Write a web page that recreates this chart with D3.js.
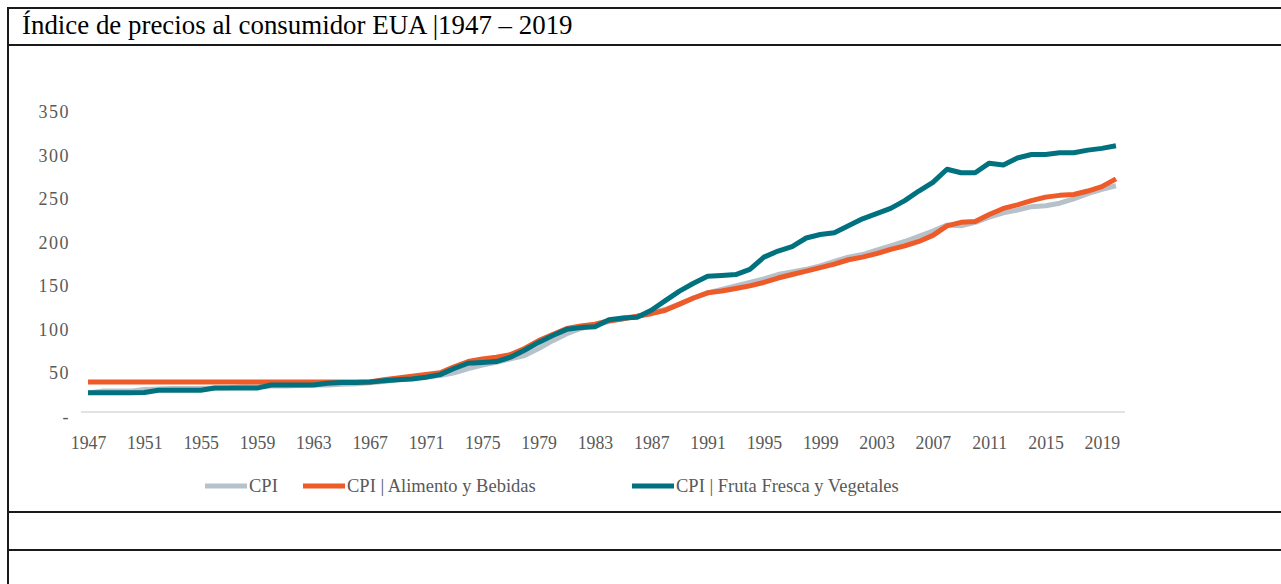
<!DOCTYPE html>
<html>
<head>
<meta charset="utf-8">
<script src="https://cdn.jsdelivr.net/npm/d3@7"></script>
<style>
  body { margin: 0; background: #fff; }
  svg { display: block; }
  text { font-family: "Liberation Serif", "Times New Roman", serif; }
</style>
</head>
<body>
<svg width="1281" height="584"></svg>
<script>
// years 1947 - 2020
var years = d3.range(1947, 2021);

var cpi = [22, 24, 24, 24, 26, 26.5, 27, 27, 27, 27.5, 28, 29, 29, 30, 30, 30.5, 31, 31, 32, 32.5,
  33.5, 35, 37, 39, 40.5, 42, 45, 50, 54, 57, 61, 65, 73, 82, 90, 96, 100, 104, 108, 110,
  114, 118, 124, 131, 137, 141, 145, 149, 153, 158, 161, 164, 168, 173, 178, 181, 186, 191, 196, 202,
  208, 215, 214, 218, 224, 229, 232, 236, 237, 240, 245, 251, 256, 260];

var food = [34.5, 34.5, 34.5, 34.5, 34.5, 34.5, 34.5, 34.5, 34.5, 34.5, 34.5, 34.5, 34.5, 34.5, 34.5, 34.5, 34.5, 34.5, 34.5, 34.5,
  34.5, 37, 39, 41, 43, 45, 52, 58, 61, 63, 66, 73, 82, 89, 96, 99, 101, 105, 107, 110,
  113, 117, 124, 131, 137, 139, 142, 145, 149, 154, 158, 162, 166, 170, 175, 178, 182, 187, 191, 196,
  203, 214, 218, 219, 227, 234, 238, 243, 247, 249, 250, 254, 259, 268];

var fruit = [22, 22, 22, 22, 22.5, 25, 25, 25, 25, 27.5, 27.5, 27.5, 27.5, 31, 31, 31, 31, 33, 34, 34,
  34.5, 36, 37, 38, 40, 43, 50, 56, 57, 58, 63, 71, 80, 88, 95, 97, 98, 106, 108, 109,
  117, 128, 139, 148, 156, 157, 158, 164, 178, 185, 190, 200, 204, 206, 214, 222, 228, 234, 243, 254,
  264, 279, 275, 275, 286, 284, 292, 296, 296, 298, 298, 301, 303, 306];

var tickYears = d3.range(1947, 2020, 4);
var yTicks = [0, 50, 100, 150, 200, 250, 300, 350];

var seriesNames = ["CPI", "CPI | Alimento y Bebidas", "CPI | Fruta Fresca y Vegetales"];
var seriesColors = ["#b6c1ca", "#ee5a28", "#00717f"];
var seriesData = [cpi, food, fruit];

var svg = d3.select("svg");

// table frame
var frame = svg.append("g").attr("stroke", "#1a1a1a").attr("stroke-width", 2);
frame.append("line").attr("x1", 8).attr("x2", 8).attr("y1", 7).attr("y2", 584);
[8, 45, 512, 550].forEach(function(y) {
  frame.append("line").attr("x1", 8).attr("x2", 1281).attr("y1", y).attr("y2", y);
});

svg.append("text")
    .attr("x", 22)
    .attr("y", 34)
    .attr("font-size", 26.9)
    .attr("fill", "#000")
    .text("Índice de precios al consumidor EUA |1947 – 2019");

var x = d3.scaleLinear().domain([1946.5, 2020.5]).range([81, 1123]);
var y = d3.scaleLinear().domain([0, 350]).range([412, 107.5]);

// baseline
svg.append("line")
    .attr("x1", 81).attr("x2", 1125)
    .attr("y1", y(0)).attr("y2", y(0))
    .attr("stroke", "#d9d9d9").attr("stroke-width", 1.5);

var yAxis = svg.append("g")
    .attr("transform", "translate(70,0)")
    .call(d3.axisLeft(y).tickValues(yTicks).tickSize(0).tickPadding(0)
      .tickFormat(function(d) { return d === 0 ? "-" : d; }));
yAxis.select(".domain").remove();
yAxis.selectAll("text")
    .attr("font-family", "Liberation Serif, Times New Roman, serif")
    .attr("font-size", 18)
    .attr("letter-spacing", 1.5)
    .attr("fill", "#595959")
    .attr("dy", 10);

var xAxis = svg.append("g")
    .attr("transform", "translate(0,436)")
    .call(d3.axisBottom(x).tickValues(tickYears).tickSize(0).tickPadding(0)
      .tickFormat(d3.format("d")));
xAxis.select(".domain").remove();
xAxis.selectAll("text")
    .attr("font-family", "Liberation Serif, Times New Roman, serif")
    .attr("font-size", 17.8)
    .attr("fill", "#595959")
    .attr("dy", "0.71em");

var line = d3.line()
    .x(function(d, i) { return x(years[i]); })
    .y(function(d) { return y(d); });

seriesData.forEach(function(s, k) {
  svg.append("path")
      .datum(s)
      .attr("fill", "none")
      .attr("stroke", seriesColors[k])
      .attr("stroke-width", 5)
      .attr("stroke-linejoin", "round")
      .attr("d", line);
});

// legend
var legendX = [205, 303, 632];
var legend = svg.append("g").attr("transform", "translate(0,486)");
seriesNames.forEach(function(name, k) {
  legend.append("line")
      .attr("x1", legendX[k]).attr("x2", legendX[k] + 42)
      .attr("stroke", seriesColors[k]).attr("stroke-width", 5);
  legend.append("text")
      .attr("x", legendX[k] + 44)
      .attr("y", 6)
      .attr("font-size", 18.5)
      .attr("fill", "#595959")
      .text(name);
});
</script>
</body>
</html>
